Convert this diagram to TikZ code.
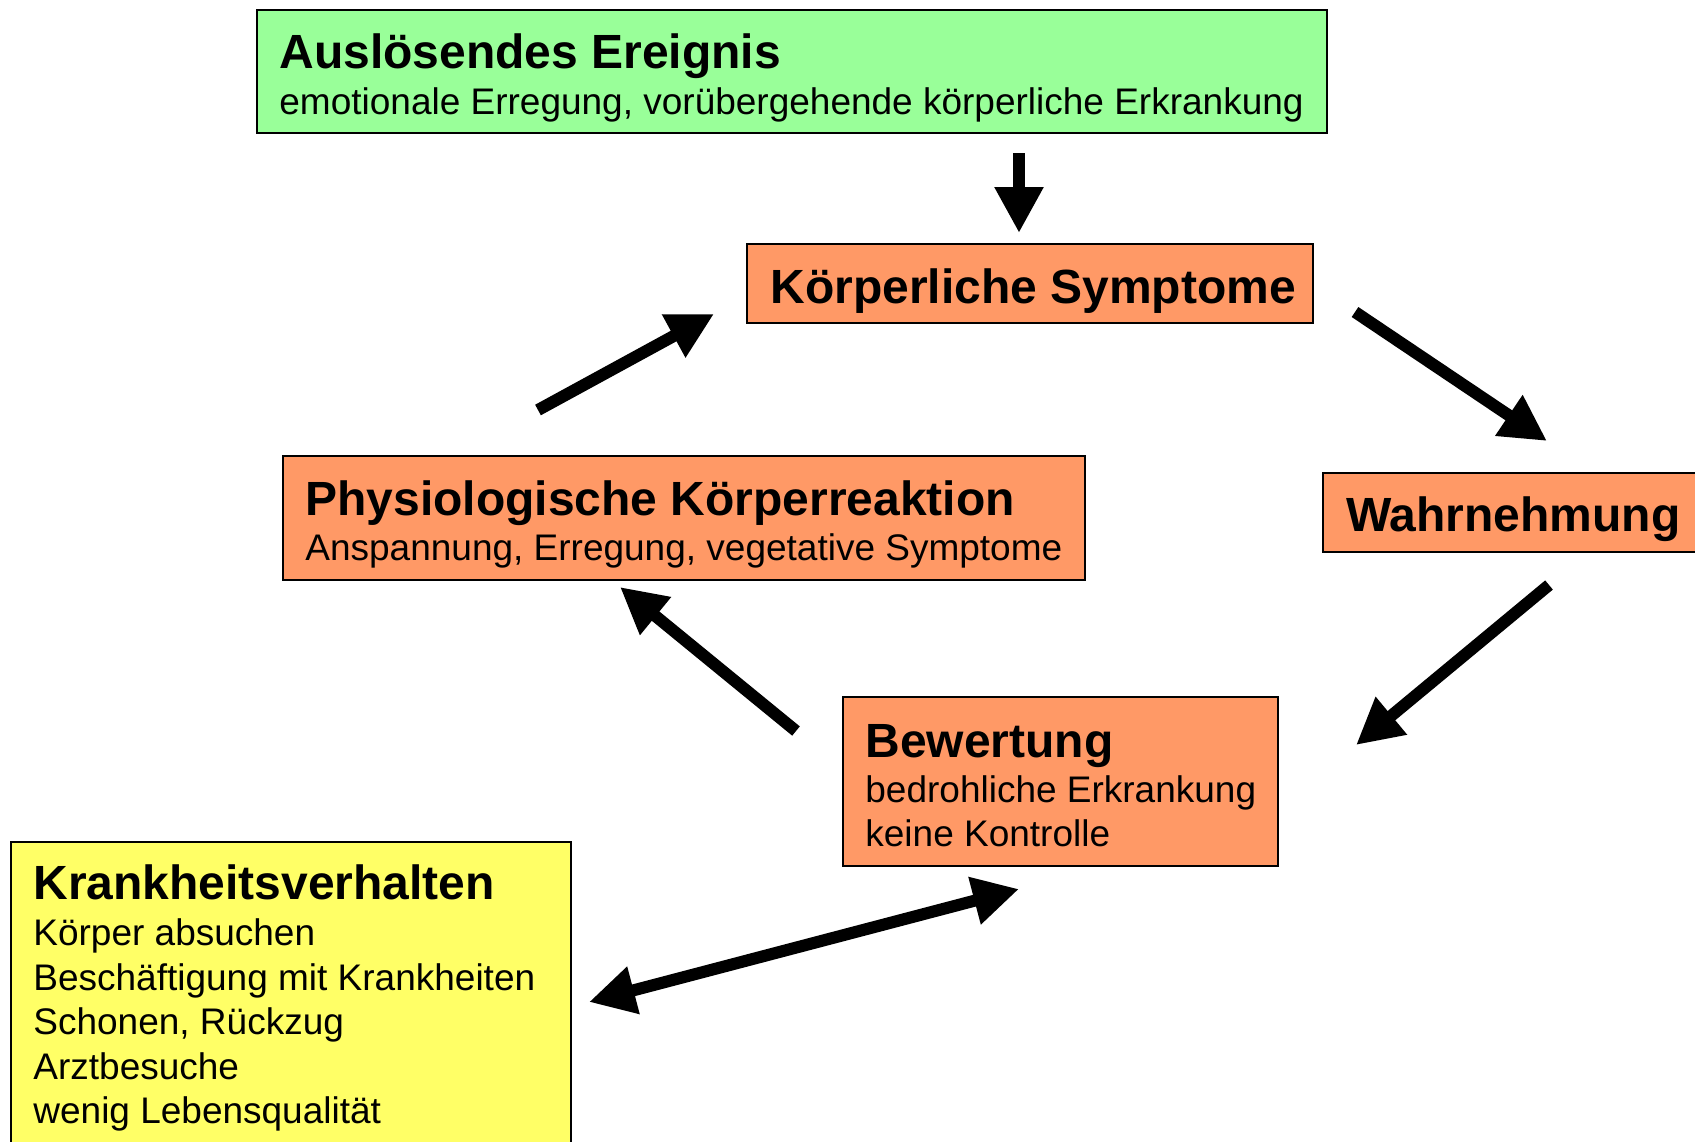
\documentclass[tikz,border=0pt]{standalone}
\usepackage{fontspec}
\setmainfont{Liberation Sans}
\usetikzlibrary{arrows.meta,fit}
\definecolor{boxgreen}{HTML}{99FF99}
\definecolor{boxorange}{HTML}{FF9966}
\definecolor{boxyellow}{HTML}{FFFF66}
\tikzset{
  box/.style={draw=black, line width=0.8pt, inner sep=0pt, rectangle},
  ttl/.style={anchor=base west, inner sep=0pt, font=\fontsize{24}{28}\selectfont\bfseries},
  sub/.style={anchor=base west, inner sep=0pt, font=\fontsize{18.5}{22}\selectfont},
  arr/.style={line width=6pt, -{Triangle[length=23pt,width=23pt]}},
  darr/.style={line width=6pt, {Triangle[length=23pt,width=23pt]}-{Triangle[length=23pt,width=23pt]}}
}
\begin{document}
\begin{tikzpicture}[x=0.5pt,y=-0.5pt]
\useasboundingbox (0,0) rectangle (1695,1141);
\clip (0,0) rectangle (1695,1141);
% boxes
\node[box, fill=boxgreen, fit={(257,10) (1327,133)}] (ae) {};
\node[box, fill=boxorange, fit={(747,244) (1313,323)}] (ks) {};
\node[box, fill=boxorange, fit={(283,456) (1085,580)}] (pk) {};
\node[box, fill=boxorange, fit={(1323,473) (1710,552)}] (wn) {};
\node[box, fill=boxorange, fit={(843,697) (1278,866)}] (bw) {};
\node[box, fill=boxyellow, fit={(11,842) (571,1160)}] (kv) {};
% texts
\node[ttl] (aet) at (279,68) {Auslösendes Ereignis};
\node[sub] (aes) at (279,114) {emotionale Erregung, vorübergehende körperliche Erkrankung};
\node[ttl] (kst) at (770,303) {Körperliche Symptome};
\node[ttl] (pkt) at (305,515) {Physiologische Körperreaktion};
\node[sub] (pks) at (305,560) {Anspannung, Erregung, vegetative Symptome};
\node[ttl] (wnt) at (1346,531) {Wahrnehmung};
\node[ttl] (bwt) at (865,757) {Bewertung};
\node[sub] (bws1) at (865,802) {bedrohliche Erkrankung};
\node[sub] (bws2) at (865,846) {keine Kontrolle};
\node[ttl] (kvt) at (33,899) {Krankheitsverhalten};
\node[sub] (kv1) at (33,945) {Körper absuchen};
\node[sub] (kv2) at (33,990) {Beschäftigung mit Krankheiten};
\node[sub] (kv3) at (33,1034) {Schonen, Rückzug};
\node[sub] (kv4) at (33,1079) {Arztbesuche};
\node[sub] (kv5) at (33,1123) {wenig Lebensqualität};
% arrow end points
\coordinate (a1s) at (1019,153);
\coordinate (a1e) at (1019,233);
\coordinate (a2s) at (538,410);
\coordinate (a2e) at (714,314);
\coordinate (a3s) at (1355,312);
\coordinate (a3e) at (1547,441);
\coordinate (a4s) at (1549,585);
\coordinate (a4e) at (1356,745);
\coordinate (a5s) at (796,731);
\coordinate (a5e) at (620,587);
\coordinate (a6s) at (589,1002);
\coordinate (a6e) at (1019,889);
\draw[arr] (a1s) -- (a1e);
\draw[arr] (a2s) -- (a2e);
\draw[arr] (a3s) -- (a3e);
\draw[arr] (a4s) -- (a4e);
\draw[arr] (a5s) -- (a5e);
\draw[darr] (a6s) -- (a6e);
\end{tikzpicture}
\end{document}
